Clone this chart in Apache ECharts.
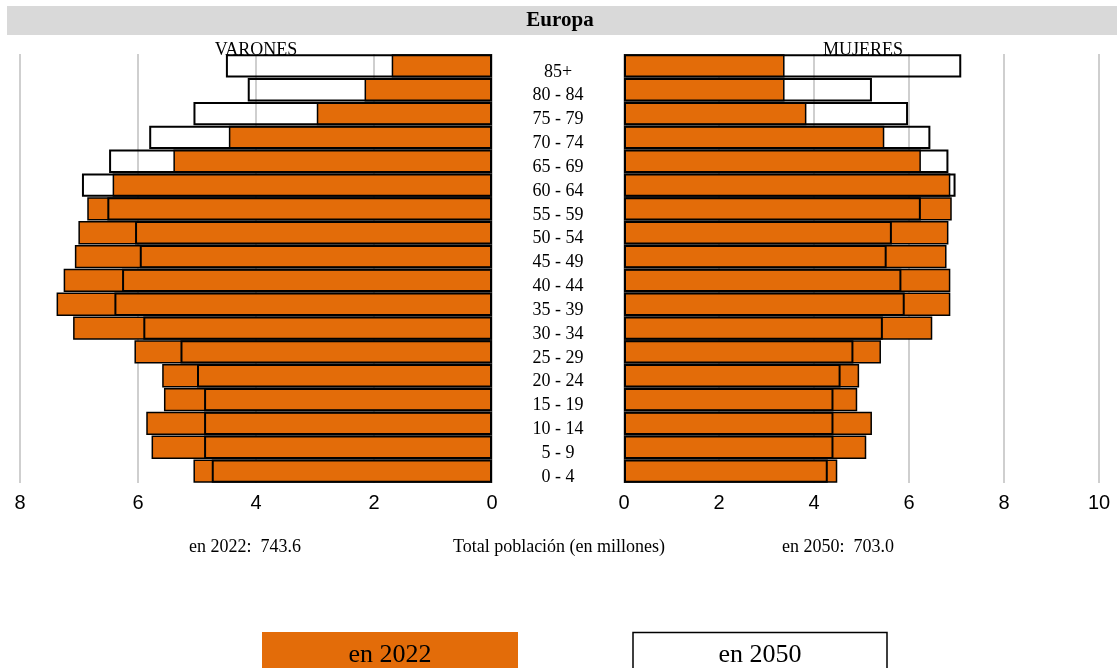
<!DOCTYPE html>
<html>
<head>
<meta charset="utf-8">
<title>Europa – pirámide de población</title>
<script src="https://cdn.jsdelivr.net/npm/echarts@6/dist/echarts.min.js"></script>
<style>
  html, body { margin: 0; padding: 0; background: #ffffff; }
  #chart { width: 1117px; height: 668px; }
</style>
</head>
<body>
<div id="chart"></div>
<script>
// Grupos de edad, de abajo hacia arriba
const ages = ['0 - 4', '5 - 9', '10 - 14', '15 - 19', '20 - 24', '25 - 29', '30 - 34', '35 - 39',
  '40 - 44', '45 - 49', '50 - 54', '55 - 59', '60 - 64', '65 - 69', '70 - 74', '75 - 79', '80 - 84', '85+'];

// Porcentaje de la población de cada sexo por grupo de edad
const varones2022 = [5.06, 5.77, 5.86, 5.56, 5.59, 6.06, 7.10, 7.38, 7.26, 7.07, 7.01, 6.86, 6.43, 5.40, 4.46, 2.97, 2.16, 1.70];
const varones2050 = [4.75, 4.88, 4.88, 4.88, 5.00, 5.28, 5.91, 6.40, 6.27, 5.97, 6.05, 6.52, 6.95, 6.49, 5.81, 5.06, 4.14, 4.51];
const mujeres2022 = [4.49, 5.10, 5.22, 4.91, 4.95, 5.41, 6.49, 6.87, 6.87, 6.79, 6.83, 6.90, 6.87, 6.25, 5.48, 3.84, 3.38, 3.38];
const mujeres2050 = [4.29, 4.41, 4.41, 4.41, 4.56, 4.83, 5.45, 5.91, 5.84, 5.53, 5.64, 6.25, 6.98, 6.83, 6.45, 5.98, 5.22, 7.10];

// Totales (millones de habitantes)
const total2022 = '743.6';
const total2050 = '703.0';

const ORANGE = '#E36C09';
const SERIF = '"Liberation Serif", "Times New Roman", serif';
const SANS = '"Liberation Sans Narrow", "Liberation Sans", Arial, sans-serif';

const chart = echarts.init(document.getElementById('chart'), null, { renderer: 'canvas' });

const gridTop = 54, gridBottom = 185;

function xAxisFor(gridIndex, max, inverse) {
  return {
    type: 'value', gridIndex: gridIndex, min: 0, max: max, interval: 2, inverse: inverse,
    axisLine: { show: false }, axisTick: { show: false },
    splitLine: { show: true, lineStyle: { color: '#BFBFBF', width: 1.5 } },
    axisLabel: { color: '#000', fontFamily: SANS, fontSize: 20, margin: 10 }
  };
}

function bars2022(idx, data) {
  return {
    type: 'bar', xAxisIndex: idx, yAxisIndex: idx, data: data,
    barCategoryGap: '2%', barGap: '-100%', z: 2,
    itemStyle: { color: ORANGE, borderColor: '#000', borderWidth: 1.5 },
    silent: true, animation: false
  };
}

function bars2050(idx, data) {
  return {
    type: 'bar', xAxisIndex: idx, yAxisIndex: idx, data: data,
    barCategoryGap: '2%', barGap: '-100%', z: 3,
    itemStyle: { color: 'rgba(0,0,0,0)', borderColor: '#000', borderWidth: 2 },
    silent: true, animation: false
  };
}

const option = {
  backgroundColor: '#ffffff',
  animation: false,
  grid: [
    { left: 20, width: 472, top: gridTop, bottom: gridBottom },
    { left: 624, width: 475, top: gridTop, bottom: gridBottom }
  ],
  xAxis: [xAxisFor(0, 8, true), xAxisFor(1, 10, false)],
  yAxis: [
    {
      type: 'category', gridIndex: 0, data: ages,
      axisLine: { show: false }, axisTick: { show: false }, axisLabel: { show: false }, splitLine: { show: false }
    },
    {
      type: 'category', gridIndex: 1, data: ages,
      axisLine: { show: false }, axisTick: { show: false }, splitLine: { show: false },
      axisLabel: {
        show: true, color: '#000', fontFamily: SERIF, fontSize: 18,
        align: 'center', verticalAlign: 'top', lineHeight: 12, margin: 66
      }
    }
  ],
  series: [
    bars2022(0, varones2022),
    bars2050(0, varones2050),
    bars2022(1, mujeres2022),
    bars2050(1, mujeres2050)
  ],
  graphic: [
    // Banda del título
    { type: 'rect', z: 0, shape: { x: 7, y: 6, width: 1110, height: 29 }, style: { fill: '#D9D9D9' } },
    { type: 'text', z: 1, x: 560, y: 21,
      style: { text: 'Europa', font: 'bold 21px ' + SERIF, fill: '#000', textAlign: 'center', textVerticalAlign: 'middle' } },
    { type: 'text', z: 0, x: 256, y: 50,
      style: { text: 'VARONES', font: '18px ' + SERIF, fill: '#000', textAlign: 'center', textVerticalAlign: 'middle' } },
    { type: 'text', z: 0, x: 863, y: 50,
      style: { text: 'MUJERES', font: '18px ' + SERIF, fill: '#000', textAlign: 'center', textVerticalAlign: 'middle' } },
    // Totales
    { type: 'text', z: 1, x: 245, y: 547,
      style: { text: 'en 2022:  ' + total2022, font: '18px ' + SERIF, fill: '#000', textAlign: 'center', textVerticalAlign: 'middle' } },
    { type: 'text', z: 1, x: 559, y: 547,
      style: { text: 'Total población (en millones)', font: '18px ' + SERIF, fill: '#000', textAlign: 'center', textVerticalAlign: 'middle' } },
    { type: 'text', z: 1, x: 838, y: 547,
      style: { text: 'en 2050:  ' + total2050, font: '18px ' + SERIF, fill: '#000', textAlign: 'center', textVerticalAlign: 'middle' } },
    // Leyenda
    { type: 'rect', z: 1, shape: { x: 262, y: 632, width: 256, height: 40 }, style: { fill: ORANGE } },
    { type: 'text', z: 2, x: 390, y: 655,
      style: { text: 'en 2022', font: '26px ' + SERIF, fill: '#000', textAlign: 'center', textVerticalAlign: 'middle' } },
    { type: 'rect', z: 1, shape: { x: 633, y: 632.5, width: 254, height: 40 }, style: { fill: '#fff', stroke: '#000', lineWidth: 1.5 } },
    { type: 'text', z: 2, x: 760, y: 655,
      style: { text: 'en 2050', font: '26px ' + SERIF, fill: '#000', textAlign: 'center', textVerticalAlign: 'middle' } }
  ]
};

chart.setOption(option);
</script>
</body>
</html>
